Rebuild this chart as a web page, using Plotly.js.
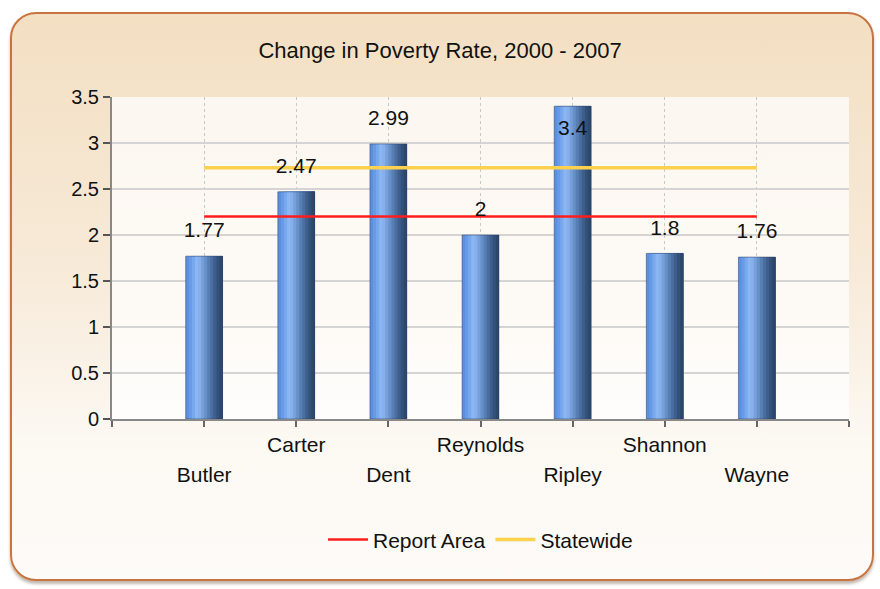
<!DOCTYPE html>
<html>
<head>
<meta charset="utf-8">
<script src="https://cdn.plot.ly/plotly-3.0.1.min.js"></script>
<style>
  html, body { margin: 0; padding: 0; background: #ffffff; }
  #wrap { position: relative; width: 880px; height: 589px; overflow: hidden; }
  #frame {
    position: absolute; left: 10px; top: 12px; width: 864px; height: 569px;
    box-sizing: border-box; border: 2px solid #c8743f; border-radius: 26px;
    background: linear-gradient(to bottom, #f3dfc2 0%, #f7ead8 45%, #fcf8f2 75%, #fdfbf8 100%);
    box-shadow: 0 3px 3px rgba(120, 100, 80, 0.45);
  }
  #chart { position: absolute; left: 0; top: 0; width: 880px; height: 589px; }
</style>
</head>
<body>
<div id="wrap">
  <div id="frame"></div>
  <div id="chart"></div>
</div>
<script>
// ---- data ----
const categories = ["Butler", "Carter", "Dent", "Reynolds", "Ripley", "Shannon", "Wayne"];
const values = [1.77, 2.47, 2.99, 2, 3.4, 1.8, 1.76];
const valueLabels = ["1.77", "2.47", "2.99", "2", "3.4", "1.8", "1.76"];
const reportArea = [2.2, 2.2, 2.2, 2.2, 2.2, 2.2, 2.2];
const statewide = [2.73, 2.73, 2.73, 2.73, 2.73, 2.73, 2.73];
const yTickVals = [0, 0.5, 1, 1.5, 2, 2.5, 3, 3.5];
const yTickText = ["0", "0.5", "1", "1.5", "2", "2.5", "3", "3.5"];

// ---- build ----
const idx = categories.map((c, i) => i);
const FONT = "Liberation Sans, Arial, sans-serif";

const traces = [];
traces.push({
  type: "scatter", mode: "lines", name: "Report Area",
  x: idx, y: reportArea, line: {color: "#ff1c1c", width: 2.5},
  hoverinfo: "skip"
});
traces.push({
  type: "scatter", mode: "lines", name: "Statewide",
  x: idx, y: statewide, line: {color: "#fbd14e", width: 3.5},
  hoverinfo: "skip"
});

// cylinder-like shading: overlapping slices (each runs to the right edge) with a colour ramp
const shade = ["#5b8fe0", "#689be7", "#78a8ed", "#8ab6f2", "#86b0ec", "#77a0da", "#6690c8", "#587fb4", "#4a6e9f", "#3e5f8b", "#33527a", "#2c486c"];
const barWidth = 0.4;
const sliceW = barWidth / shade.length;
shade.forEach((col, k) => {
  traces.push({
    type: "bar", x: idx, y: values, width: barWidth - k * sliceW,
    offset: -barWidth / 2 + k * sliceW,
    marker: {color: col, line: {width: 0}},
    showlegend: false, hoverinfo: "skip"
  });
});
// thin outline of bars
traces.push({
  type: "bar", x: idx, y: values, width: barWidth, offset: -barWidth / 2,
  marker: {color: "rgba(0,0,0,0)", line: {color: "rgba(40,60,100,0.5)", width: 1}},
  showlegend: false, hoverinfo: "skip"
});
// value labels
traces.push({
  type: "scatter", mode: "markers+text", x: idx, y: values, text: valueLabels,
  marker: {size: 20, opacity: 0},
  textposition: values.map(v => v > 3.3 ? "bottom center" : "top center"),
  textfont: {family: FONT, size: 21, color: "#111111"},
  showlegend: false, hoverinfo: "skip", cliponaxis: false
});
// second row of category labels lives on an overlaid axis
traces.push({
  type: "scatter", mode: "markers", x: idx, y: values, xaxis: "x2",
  marker: {size: 1, opacity: 0}, showlegend: false, hoverinfo: "skip"
});

const row1Vals = [-1], row1Text = [""];
const row2Vals = [], row2Text = [];
categories.forEach((c, i) => {
  row1Vals.push(i);
  row1Text.push(i % 2 === 1 ? c : "");
  if (i % 2 === 0) { row2Vals.push(i); row2Text.push(c); }
});
row1Vals.push(categories.length); row1Text.push("");

const layout = {
  width: 880, height: 589,
  paper_bgcolor: "rgba(0,0,0,0)",
  plot_bgcolor: "rgba(255,255,255,0.72)",
  margin: {l: 112, r: 31, t: 97, b: 170},
  barmode: "overlay",
  font: {family: FONT, color: "#111111"},
  title: {
    text: "Change in Poverty Rate, 2000 - 2007",
    font: {family: FONT, size: 22, color: "#111111"},
    x: 0.5, xanchor: "center", xref: "container",
    y: 1 - 50 / 589, yanchor: "middle", yref: "container"
  },
  xaxis: {
    range: [-1, 7], tickmode: "array",
    tickvals: row1Vals, ticktext: row1Text,
    ticks: "outside", ticklen: 6, tickwidth: 2, tickcolor: "#666666",
    showline: true, linecolor: "#888888", linewidth: 2,
    showgrid: true, gridcolor: "#c8c8c8", griddash: "dot", gridwidth: 1,
    zeroline: false,
    tickfont: {family: FONT, size: 21, color: "#111111"},
    fixedrange: true
  },
  xaxis2: {
    overlaying: "x", anchor: "y", side: "bottom",
    range: [-1, 7], tickmode: "array",
    tickvals: row2Vals, ticktext: row2Text,
    ticks: "", showline: false, showgrid: false, zeroline: false,
    ticklabelstandoff: 41,
    tickfont: {family: FONT, size: 21, color: "#111111"},
    fixedrange: true
  },
  yaxis: {
    range: [0, 3.5], tickmode: "array", tickvals: yTickVals, ticktext: yTickText,
    ticks: "outside", ticklen: 7, tickwidth: 2, tickcolor: "#555555",
    showline: true, linecolor: "#888888", linewidth: 2,
    showgrid: true, gridcolor: "#d4d4d4", gridwidth: 2,
    zeroline: false,
    tickfont: {family: FONT, size: 20, color: "#111111"},
    fixedrange: true
  },
  legend: {
    orientation: "h", x: 0.5, xanchor: "center", y: -0.375, yanchor: "middle",
    font: {family: FONT, size: 21, color: "#111111"},
    bgcolor: "rgba(0,0,0,0)", itemwidth: 40, traceorder: "normal"
  },
  showlegend: true
};

Plotly.newPlot("chart", traces, layout, {displayModeBar: false, staticPlot: true});
</script>
</body>
</html>
